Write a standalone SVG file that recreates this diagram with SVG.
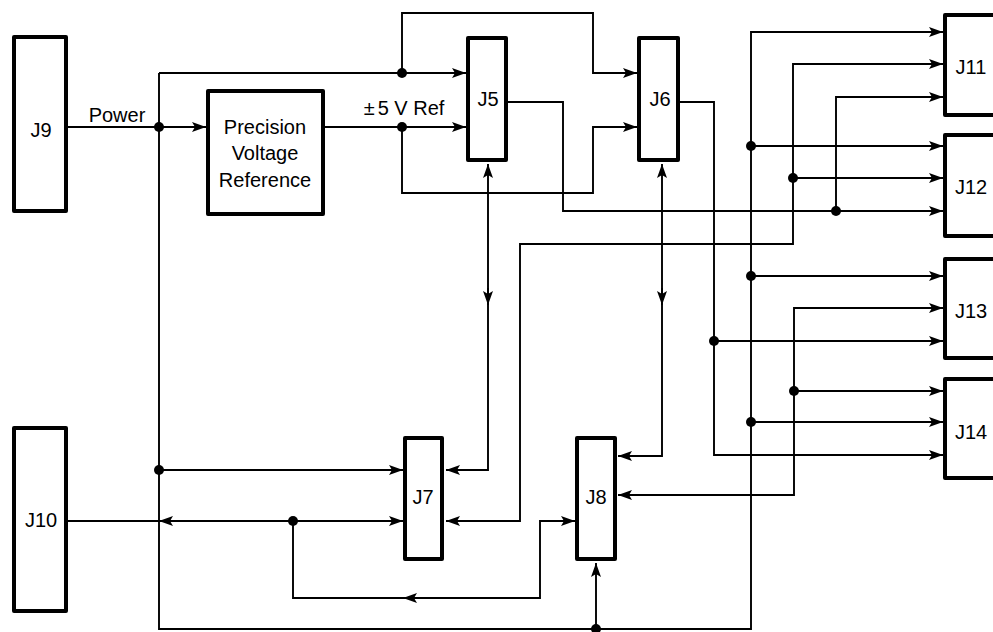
<svg xmlns="http://www.w3.org/2000/svg" width="993" height="632" viewBox="0 0 993 632">
<style>
.box{fill:#fff;stroke:#000;stroke-width:4;stroke-linejoin:round}
.lbl{font-family:"Liberation Sans",Arial,sans-serif;font-size:20px;fill:#000;text-anchor:middle;dominant-baseline:central}
.w{fill:none;stroke:#000;stroke-width:1.9}
.e{marker-end:url(#a)}
.s{marker-start:url(#a)}
.dot{fill:#000}
</style>
<defs>
<marker id="a" viewBox="0 0 14 10" refX="14" refY="5" markerWidth="14" markerHeight="10" markerUnits="userSpaceOnUse" orient="auto-start-reverse"><path d="M0,0 L14,5 L0,10 L3,5 Z" fill="#000"/></marker>
</defs>
<rect width="993" height="632" fill="#fff"/>
<g id="connectors">
<path class="w e" d="M68,127 H206"/>
<path class="w e" d="M159,73 H466"/>
<path class="w e" d="M159,73 V629 H751 V32 H943"/>
<path class="w e" d="M402,73 V13 H593 V73 H637"/>
<path class="w e" d="M325,127 H466"/>
<path class="w e" d="M402,127 V193 H593 V127 H637"/>
<path class="w e" d="M507,102 H563 V211 H943"/>
<path class="w e" d="M836,211 V97 H943"/>
<path class="w e" d="M680,102 H714 V455 H943"/>
<path class="w e" d="M714,341 H943"/>
<path class="w e" d="M751,146 H943"/>
<path class="w e" d="M751,276 H943"/>
<path class="w e" d="M751,422 H943"/>
<path class="w s e" d="M446,521 H520 V244 H793 V64 H943"/>
<path class="w e" d="M793,178 H943"/>
<path class="w s e" d="M618,495 H794 V308 H943"/>
<path class="w e" d="M794,391 H943"/>
<path class="w s e" d="M488,164 V470 H446"/>
<path class="w e" d="M488,288 V305"/>
<path class="w s e" d="M662,164 V456 H618"/>
<path class="w e" d="M662,288 V305"/>
<path class="w e" d="M159,470 H403"/>
<path class="w e" d="M68,521 H403"/>
<path class="w e" d="M176,521 H159"/>
<path class="w e" d="M293,521 V598 H540 V521 H575"/>
<path class="w e" d="M422,598 H403"/>
<path class="w e" d="M596,629 V563"/>
<g class="dot">
<circle cx="159" cy="127" r="5"/>
<circle cx="402" cy="73" r="5"/>
<circle cx="402" cy="127" r="5"/>
<circle cx="159" cy="470" r="5"/>
<circle cx="293" cy="521" r="5"/>
<circle cx="596" cy="629" r="5"/>
<circle cx="751" cy="146" r="5"/>
<circle cx="793" cy="178" r="5"/>
<circle cx="836" cy="211" r="5"/>
<circle cx="751" cy="276" r="5"/>
<circle cx="714" cy="341" r="5"/>
<circle cx="794" cy="391" r="5"/>
<circle cx="751" cy="422" r="5"/>
</g>
<text class="lbl" x="117" y="115">Power</text>
<text class="lbl" x="404" y="108">±<tspan dx="3">5 V Ref</tspan></text>
</g>
<g id="J9"><rect class="box" x="14" y="37" width="52" height="174"/><text class="lbl" x="41" y="130">J9</text></g>
<g id="J10"><rect class="box" x="14" y="428" width="52" height="183"/><text class="lbl" x="41" y="520">J10</text></g>
<g id="PVR"><rect class="box" x="208" y="91" width="115" height="123"/><text class="lbl" x="265" y="127">Precision</text><text class="lbl" x="265" y="153">Voltage</text><text class="lbl" x="265" y="180">Reference</text></g>
<g id="J5"><rect class="box" x="468" y="38" width="38" height="122"/><text class="lbl" x="488" y="99">J5</text></g>
<g id="J6"><rect class="box" x="639" y="38" width="39" height="122"/><text class="lbl" x="660" y="99">J6</text></g>
<g id="J7"><rect class="box" x="405" y="438" width="37" height="121"/><text class="lbl" x="423" y="497">J7</text></g>
<g id="J8"><rect class="box" x="577" y="438" width="38" height="121"/><text class="lbl" x="596" y="497">J8</text></g>
<g id="J11"><rect class="box" x="945" y="15" width="60" height="100"/><text class="lbl" x="971" y="67">J11</text></g>
<g id="J12"><rect class="box" x="945" y="135" width="60" height="101"/><text class="lbl" x="971" y="187">J12</text></g>
<g id="J13"><rect class="box" x="945" y="259" width="60" height="99"/><text class="lbl" x="971" y="311">J13</text></g>
<g id="J14"><rect class="box" x="945" y="379" width="60" height="99"/><text class="lbl" x="971" y="432">J14</text></g>
</svg>
